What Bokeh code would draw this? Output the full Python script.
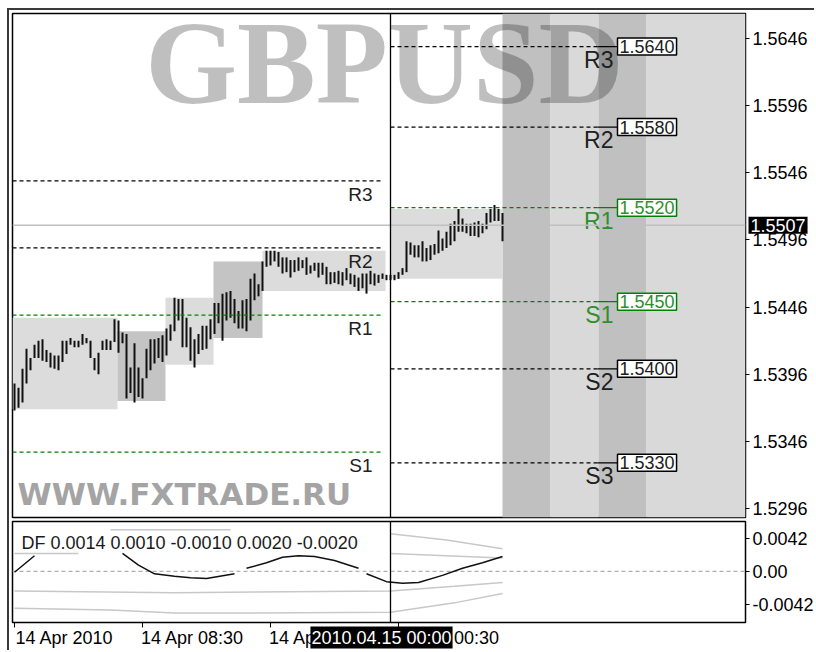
import math
from bokeh.plotting import figure
from bokeh.models import (ColumnDataSource, Span, Label, FixedTicker, Range1d,
                          PrintfTickFormatter, LinearAxis, Div)
from bokeh.layouts import column
from bokeh.embed import file_html
from bokeh.resources import INLINE
from bokeh.core.properties import value

nan = float("nan")

# ---------------- data ----------------
# M15 bars, index 0 = 14 Apr 00:30, index 94 = 15 Apr 00:00
bar_high = [1.5389, 1.5386, 1.5400, 1.5415, 1.5408, 1.5418, 1.5421, 1.5422, 1.5414, 1.5412,
            1.5410, 1.5410, 1.5421, 1.5421, 1.5423, 1.5421, 1.5421, 1.5426, 1.5423, 1.5421,
            1.5408, 1.5412, 1.5421, 1.5422, 1.5421, 1.5437, 1.5436, 1.5427, 1.5426, 1.5401,
            1.5419, 1.5401, 1.5393, 1.5415, 1.5422, 1.5422, 1.5423, 1.5425, 1.5430, 1.5433,
            1.5453, 1.5452, 1.5452, 1.5438, 1.5431, 1.5422, 1.5426, 1.5432, 1.5432, 1.5437,
            1.5449, 1.5449, 1.5456, 1.5457, 1.5458, 1.5452, 1.5443, 1.5451, 1.5452, 1.5467,
            1.5471, 1.5463, 1.5480, 1.5488, 1.5488, 1.5488, 1.5487, 1.5483, 1.5483, 1.5481,
            1.5481, 1.5483, 1.5481, 1.5483, 1.5477, 1.5479, 1.5479, 1.5479, 1.5476, 1.5472,
            1.5472, 1.5473, 1.5472, 1.5475, 1.5471, 1.5470, 1.5468, 1.5471, 1.5471, 1.5473,
            1.5471, 1.5470, 1.5471, 1.5470, 1.5470, 1.5470, 1.5472, 1.5475, 1.5495, 1.5494,
            1.5492, 1.5492, 1.5495, 1.5490, 1.5492, 1.5493, 1.5503, 1.5497, 1.5502, 1.5508,
            1.5510, 1.5519, 1.5512, 1.5508, 1.5508, 1.5509, 1.5510, 1.5508, 1.5516, 1.5519,
            1.5522, 1.5519, 1.5516]
bar_low = [1.5369, 1.5371, 1.5375, 1.5389, 1.5399, 1.5408, 1.5408, 1.5406, 1.5405, 1.5401,
           1.5400, 1.5399, 1.5405, 1.5411, 1.5418, 1.5416, 1.5416, 1.5418, 1.5419, 1.5408,
           1.5399, 1.5396, 1.5414, 1.5414, 1.5414, 1.5420, 1.5412, 1.5419, 1.5378, 1.5382,
           1.5375, 1.5379, 1.5378, 1.5393, 1.5399, 1.5404, 1.5408, 1.5405, 1.5410, 1.5421,
           1.5428, 1.5436, 1.5416, 1.5416, 1.5406, 1.5401, 1.5411, 1.5414, 1.5415, 1.5422,
           1.5426, 1.5434, 1.5421, 1.5436, 1.5438, 1.5434, 1.5430, 1.5430, 1.5428, 1.5436,
           1.5451, 1.5454, 1.5458, 1.5476, 1.5477, 1.5480, 1.5476, 1.5471, 1.5472, 1.5468,
           1.5472, 1.5473, 1.5475, 1.5470, 1.5471, 1.5473, 1.5468, 1.5470, 1.5463, 1.5463,
           1.5464, 1.5463, 1.5462, 1.5466, 1.5463, 1.5461, 1.5458, 1.5460, 1.5456, 1.5463,
           1.5462, 1.5464, 1.5467, 1.5466, 1.5466, 1.5466, 1.5467, 1.5470, 1.5472, 1.5485,
           1.5483, 1.5483, 1.5480, 1.5480, 1.5481, 1.5485, 1.5486, 1.5488, 1.5490, 1.5492,
           1.5495, 1.5502, 1.5502, 1.5501, 1.5499, 1.5499, 1.5498, 1.5501, 1.5504, 1.5509,
           1.5510, 1.5510, 1.5495]
bar_x = list(range(len(bar_high)))

bid_price = 1.5507

# session range boxes (bar index edges, price high/low)
box_left = [-0.5, 25.75, 37.75, 49.75, 62.0, 94.0]
box_right = [25.75, 37.75, 49.75, 62.0, 92.75, 122.0]
box_top = [1.5438, 1.5428, 1.5453, 1.5480, 1.5488, 1.5519]
box_bottom = [1.5370, 1.5376, 1.5403, 1.5423, 1.5458, 1.5467]
box_colors = ["#dcdcdc", "#c4c4c4", "#dcdcdc", "#c4c4c4", "#dcdcdc", "#dcdcdc"]

# time-zone bands on the right
band_left = [122.0, 134.0, 146.0, 158.0]
band_right = [134.0, 146.0, 158.0, 182.75]
band_colors = ["#c0c0c0", "#d9d9d9", "#c0c0c0", "#d9d9d9"]

# previous day pivots
old_names = ["R3", "R2", "R1", "S1"]
old_values = [1.5540, 1.5490, 1.5440, 1.5338]
old_colors = ["#000000", "#000000", "#008000", "#008000"]

# today's pivots
piv_names = ["R3", "R2", "R1", "S1", "S2", "S3"]
piv_values = [1.5640, 1.5580, 1.5520, 1.5450, 1.5400, 1.5330]
piv_colors = ["#000000", "#000000", "#008000", "#008000", "#000000", "#000000"]
piv_text_colors = ["#202020", "#202020", "#2e8f2e", "#2e8f2e", "#202020", "#202020"]

price_ticks = [1.5296, 1.5346, 1.5396, 1.5446, 1.5496, 1.5546, 1.5596, 1.5646]

time_ticks = [0, 32, 64, 96]
time_labels = ["14 Apr 2010", "14 Apr 08:30", "14 Apr 16:30", "15 Apr 00:30"]
day_sep = 94
day_sep_label = "2010.04.15 00:00"

# DF indicator
df_x = [0, 5, 6, 27, 31, 35, 40, 44, 48, 55, 56, 58, 63, 67, 71, 75, 80, 86, 87,
        88, 93, 97, 101, 107, 112, 117, 122]
df_v = [-0.0001, 0.0020, nan, 0.0023, 0.0008, -0.0003, -0.0006, -0.0008, -0.0009, -0.0003, nan,
        0.0004, 0.0011, 0.0018, 0.0020, 0.0019, 0.0014, 0.0004, nan,
        -0.0003, -0.0013, -0.0015, -0.0014, -0.0005, 0.0004, 0.0011, 0.0019]
up_out_x = [24, 54, 55, 94, 108, 122]
up_out_v = [0.0053, 0.0053, nan, 0.0048, 0.0040, 0.0029]
up_in_x = [0, 16, 17, 94, 122]
up_in_v = [0.0023, 0.0023, nan, 0.0023, 0.0017]
lo_in_x = [0, 40, 94, 110, 122]
lo_in_v = [-0.0025, -0.0027, -0.0025, -0.0019, -0.0014]
lo_out_x = [0, 24, 40, 60, 94, 110, 122]
lo_out_v = [-0.0047, -0.0049, -0.0053, -0.0053, -0.0052, -0.0040, -0.0028]
df_ticks = [-0.0042, 0.0, 0.0042]
df_tick_labels = ["-0.0042", "0.00", "0.0042"]
df_params = "DF 0.0014 0.0010 -0.0010 0.0020 -0.0020"

# ---------------- chart ----------------
FONT = "Liberation Sans"
X_START, X_END = -0.5, 182.75
Y_LO, Y_HI = 1.52893, 1.56646
DF_LO, DF_HI = -0.0065, 0.00636
W, H = 816, 652
FRAME_W, FRAME_H, SUB_H = 733, 504, 101
LEFT, TOP = 12, 13
RIGHT = W - LEFT - FRAME_W
SUB_BOTTOM = 30
BAR_PX = FRAME_W / (X_END - X_START)
PRICE_PX = FRAME_H / (Y_HI - Y_LO)


def style_axis(ax):
    ax.major_label_text_font = FONT
    ax.major_label_text_font_size = "18px"
    ax.major_label_text_color = "#000000"
    ax.major_tick_in = 0
    ax.major_tick_out = 4
    ax.major_tick_line_color = "#000000"
    ax.minor_tick_line_color = None
    ax.axis_line_color = None
    ax.major_label_standoff = 3


p = figure(frame_width=FRAME_W, frame_height=FRAME_H,
           x_range=Range1d(X_START, X_END), y_range=Range1d(Y_LO, Y_HI),
           y_axis_location="right", x_axis_location=None,
           toolbar_location=None, output_backend="svg",
           min_border_left=LEFT, min_border_right=0, min_border_top=TOP, min_border_bottom=2,
           background_fill_color="white", border_fill_color="white",
           outline_line_color="#000000", outline_line_width=1.5)
p.grid.visible = False
style_axis(p.yaxis[0])
p.yaxis.ticker = FixedTicker(ticks=price_ticks)
p.yaxis.formatter = PrintfTickFormatter(format="%.4f")

# bands & session boxes
p.quad(left=band_left, right=band_right, bottom=Y_LO, top=Y_HI,
       fill_color=band_colors, line_color=None, level="underlay")
p.quad(left=box_left, right=box_right, bottom=box_bottom, top=box_top,
       fill_color=box_colors, line_color=None, level="underlay")

# watermarks
p.text(x=[92.5], y=[1.5627], text=["GBPUSD"], text_font=value("Liberation Serif"),
       text_font_style="bold", text_font_size="118px", text_color="#000000",
       text_alpha=0.25, text_align="center", text_baseline="alphabetic", level="underlay")
p.text(x=[0.75], y=[1.5307], text=["WWW.FXTRADE.RU"], text_font=value("DejaVu Sans"),
       text_font_style="bold", text_font_size="31px", text_color="#a4a4a4",
       text_align="left", text_baseline="alphabetic", level="underlay")

# bid line
p.add_layout(Span(location=bid_price, dimension="width", line_color="#c0c0c0",
                  line_width=1.5, level="glyph"))

# bars
p.segment(x0=bar_x, y0=bar_low, x1=bar_x, y1=bar_high, line_color="#111111", line_width=2)

# previous day pivots
old_src = ColumnDataSource(dict(v=old_values, c=old_colors, n=old_names))
p.segment(x0=-0.5, x1=91.5, y0="v", y1="v", line_color="c", line_dash="4 3",
          line_width=1.3, source=old_src)
p.text(x=89.5, y="v", text="n", source=old_src, text_font=value(FONT),
       text_font_size="19px", text_color="#202020", text_align="right",
       text_baseline="top", y_offset=3)

# today's pivots
piv_src = ColumnDataSource(dict(v=piv_values, c=piv_colors, n=piv_names, tc=piv_text_colors))
p.segment(x0=day_sep, x1=145.75, y0="v", y1="v", line_color="c", line_dash="4 3",
          line_width=1.3, source=piv_src)
p.segment(x0=145.75, x1=150.75, y0="v", y1="v", line_color="c", line_width=1.3, source=piv_src)
p.text(x=149.75, y="v", text="n", source=piv_src, text_font=value(FONT),
       text_font_size="23px", text_color="tc", text_align="right",
       text_baseline="top", y_offset=0)
for v, c, tc in zip(piv_values, piv_colors, piv_text_colors):
    p.add_layout(Label(x=150.75, y=v, text=f"{v:.4f}",
                       text_font=FONT, text_font_size="18px", text_color=tc,
                       text_align="left", text_baseline="middle",
                       background_fill_color="white", border_line_color=c,
                       border_line_width=1.5, padding=2))

# day separator
p.add_layout(Span(location=day_sep, dimension="height", line_color="#000000", line_width=1.3))

# ---------- DF sub chart ----------
p2 = figure(frame_width=FRAME_W, frame_height=SUB_H,
            x_range=p.x_range, y_range=Range1d(DF_LO, DF_HI),
            y_axis_location="right", x_axis_location="below",
            toolbar_location=None, output_backend="svg",
            min_border_left=LEFT, min_border_right=0, min_border_top=2,
            min_border_bottom=SUB_BOTTOM,
            background_fill_color="white", border_fill_color="white",
            outline_line_color="#000000", outline_line_width=1.5)
p2.grid.visible = False
style_axis(p2.yaxis[0])
p2.yaxis.ticker = FixedTicker(ticks=df_ticks)
p2.yaxis.major_label_overrides = dict(zip(df_ticks, df_tick_labels))

# tick marks at the time ticks (no labels)
tick_ax = p2.xaxis[0]
style_axis(tick_ax)
tick_ax.major_tick_out = 5
tick_ax.ticker = FixedTicker(ticks=time_ticks)
tick_ax.major_label_overrides = {t: "" for t in time_ticks}
tick_ax.major_label_text_font_size = "1px"
tick_ax.major_label_standoff = 0

# labels start at their tick (MT4 style): second axis carries the texts
label_shift = 50 / BAR_PX
label_pos = [t + label_shift for t in time_ticks]
lab_ax = LinearAxis(ticker=FixedTicker(ticks=label_pos),
                    major_label_overrides=dict(zip(label_pos, time_labels)))
style_axis(lab_ax)
lab_ax.major_tick_out = 0
lab_ax.major_tick_line_color = None
lab_ax.major_label_standoff = 0
p2.add_layout(lab_ax, "below")

p2.add_layout(Span(location=0, dimension="width", line_color="#b0b0b0",
                   line_dash="4 3", line_width=1.2, level="underlay"))
for xs, vs in [(up_out_x, up_out_v), (up_in_x, up_in_v), (lo_in_x, lo_in_v), (lo_out_x, lo_out_v)]:
    p2.line(x=xs, y=vs, line_color="#c8c8c8", line_width=1.5)
p2.line(x=df_x, y=df_v, line_color="#111111", line_width=1.5)
p2.add_layout(Span(location=day_sep, dimension="height", line_color="#000000", line_width=1.3))
p2.add_layout(Label(x=9, y=80, x_units="screen", y_units="screen", text=df_params,
                    text_font=FONT, text_font_size="18px", text_color="#1a1a1a",
                    text_baseline="middle"))

# ---------- transparent overlay for the labels that sit over the scales ----------
main_h = TOP + FRAME_H + 2
sub_h = 2 + SUB_H + SUB_BOTTOM
ov = figure(width=W, height=H, x_range=p.x_range,
            y_range=Range1d(Y_LO - (H - TOP - FRAME_H) / PRICE_PX, Y_HI + TOP / PRICE_PX),
            x_axis_location=None, y_axis_location=None,
            toolbar_location=None, output_backend="svg",
            min_border_left=LEFT, min_border_right=RIGHT, min_border_top=0, min_border_bottom=0,
            background_fill_color=None, border_fill_color=None, outline_line_color=None,
            margin=(-(main_h + sub_h), 0, 0, 0))
ov.grid.visible = False

# current price label on the price scale (side panel, so it is not clipped)
ov.add_layout(Label(x=3, x_units="screen", y=bid_price, text=f"{bid_price:.4f}",
                    text_font=FONT, text_font_size="18px", text_color="white",
                    text_align="left", text_baseline="middle",
                    background_fill_color="black", padding=2), "right")
# day separator time label on the time scale
ov.add_layout(Label(x=day_sep, y=H - (main_h + 2 + SUB_H + 4), y_units="screen", x_offset=-9,
                    text=day_sep_label, text_font=FONT, text_font_size="18px",
                    text_color="white", text_align="center", text_baseline="top",
                    background_fill_color="black", padding=1))

# window border (top and left) drawn by a transparent frame
frame_div = Div(text="", width=W - 7 - 2, height=H - 8 - 2, margin=(-(H - 8), 0, 0, 7),
                styles={"border-top": "2px solid #3a3a3a", "border-left": "2px solid #3a3a3a",
                        "background": "transparent", "pointer-events": "none"})

layout = column(p, p2, ov, frame_div, spacing=0)

open("out.html", "w").write(file_html(layout, INLINE))
